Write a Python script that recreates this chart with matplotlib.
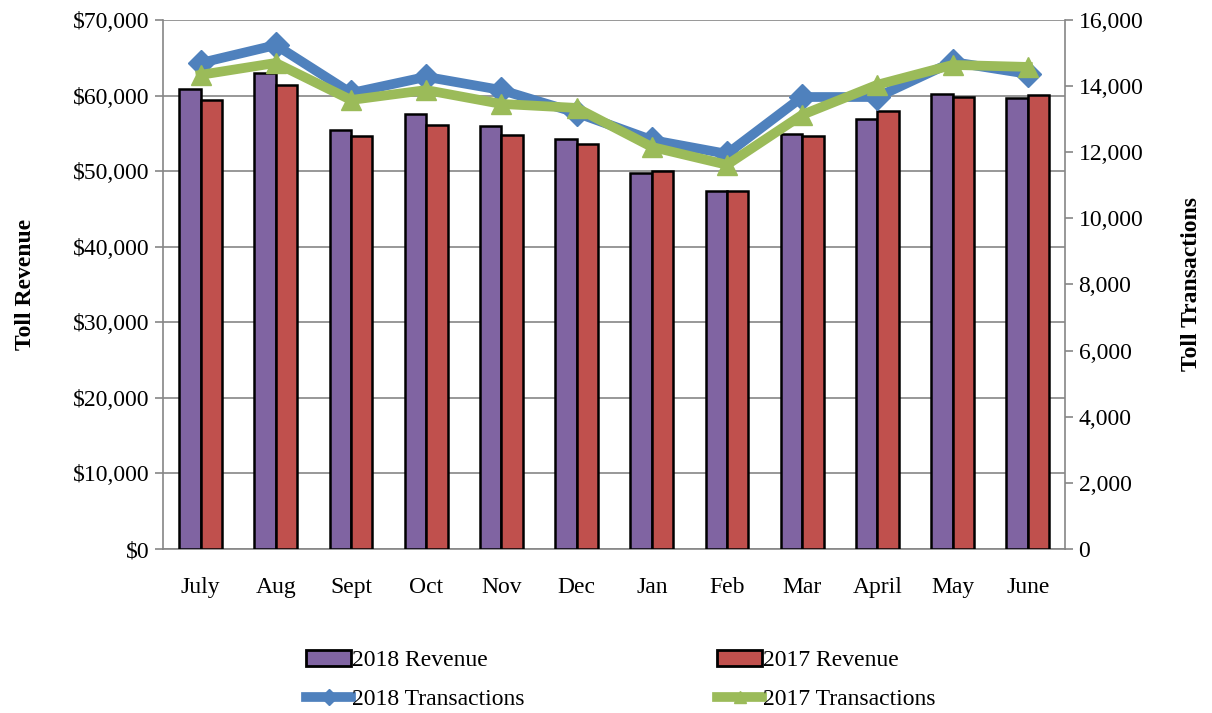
import matplotlib.pyplot as plt
import numpy as np
from matplotlib.patches import Patch
from matplotlib.lines import Line2D
from matplotlib.ticker import FuncFormatter

months = ['July', 'Aug', 'Sept', 'Oct', 'Nov', 'Dec', 'Jan', 'Feb', 'Mar', 'April', 'May', 'June']
rev_2018 = [60800, 63000, 55400, 57600, 56000, 54300, 49700, 47400, 54900, 56900, 60200, 59700]
rev_2017 = [59400, 61400, 54600, 56100, 54800, 53600, 50000, 47400, 54600, 57900, 59800, 60100]
trans_2018 = [14700, 15240, 13790, 14280, 13880, 13190, 12370, 11950, 13670, 13670, 14730, 14370]
trans_2017 = [14340, 14700, 13580, 13880, 13460, 13340, 12160, 11620, 13130, 14040, 14640, 14580]

plt.rcParams['font.family'] = ['Liberation Serif', 'DejaVu Serif']
purple, red = '#8064A2', '#C0504D'
blue, green = '#4F81BD', '#9BBB59'
grey = '#868686'
fs = 17

fig = plt.figure(figsize=(12.12, 7.13), dpi=100)
ax = fig.add_axes([0.1345, 0.23, 0.7445, 0.742])
x = np.arange(len(months))
w = 0.285
ax.bar(x - w / 2, rev_2018, width=w, color=purple, edgecolor='black', linewidth=1.8, zorder=3)
ax.bar(x + w / 2, rev_2017, width=w, color=red, edgecolor='black', linewidth=1.8, zorder=3)
ax.set_xlim(-0.5, len(months) - 0.5)
ax.set_ylim(0, 70000)
ax.set_yticks(np.arange(0, 70001, 10000))
ax.yaxis.set_major_formatter(FuncFormatter(lambda v, p: '${:,.0f}'.format(v)))
ax.grid(axis='y', color=grey, linewidth=1.2, zorder=0)
ax.set_xticks(x)
ax.set_xticklabels(months)
ax.tick_params(axis='x', length=0, labelsize=fs, pad=20)
ax.tick_params(axis='y', labelsize=fs, color=grey, length=6, width=1.2)
ax.set_ylabel('Toll Revenue', fontsize=fs, fontweight='bold', labelpad=27)
for s in ['top', 'right']:
    ax.spines[s].set_visible(False)
for s in ['left', 'bottom']:
    ax.spines[s].set_color(grey)
    ax.spines[s].set_linewidth(1.2)

ax2 = ax.twinx()
ax2.plot(x, trans_2018, color=blue, linewidth=7, marker='D', markersize=13, zorder=4)
ax2.plot(x, trans_2017, color=green, linewidth=7, marker='^', markersize=15, zorder=5)
ax2.set_ylim(0, 16000)
ax2.set_yticks(np.arange(0, 16001, 2000))
ax2.yaxis.set_major_formatter(FuncFormatter(lambda v, p: '{:,.0f}'.format(v)))
ax2.tick_params(axis='y', labelsize=fs, color=grey, length=6, width=1.2)
ax2.set_ylabel('Toll Transactions', fontsize=fs, fontweight='bold', labelpad=27)
for s in ['top', 'left', 'bottom']:
    ax2.spines[s].set_visible(False)
ax2.spines['right'].set_color(grey)
ax2.spines['right'].set_linewidth(1.2)

handles = [
    Patch(facecolor=purple, edgecolor='black', linewidth=2, label='2018 Revenue'),
    Line2D([], [], color=blue, linewidth=7, marker='D', markersize=8, label='2018 Transactions'),
    Patch(facecolor=red, edgecolor='black', linewidth=2, label='2017 Revenue'),
    Line2D([], [], color=green, linewidth=7, marker='^', markersize=9, label='2017 Transactions'),
]
fig.legend(handles=handles, ncol=2, loc='upper left', bbox_to_anchor=(0.245, 0.102),
           frameon=False, fontsize=fs, handlelength=1.9, handletextpad=0.05,
           columnspacing=8.15, labelspacing=0.75, borderaxespad=0)

fig.savefig('out.png', dpi=100)
